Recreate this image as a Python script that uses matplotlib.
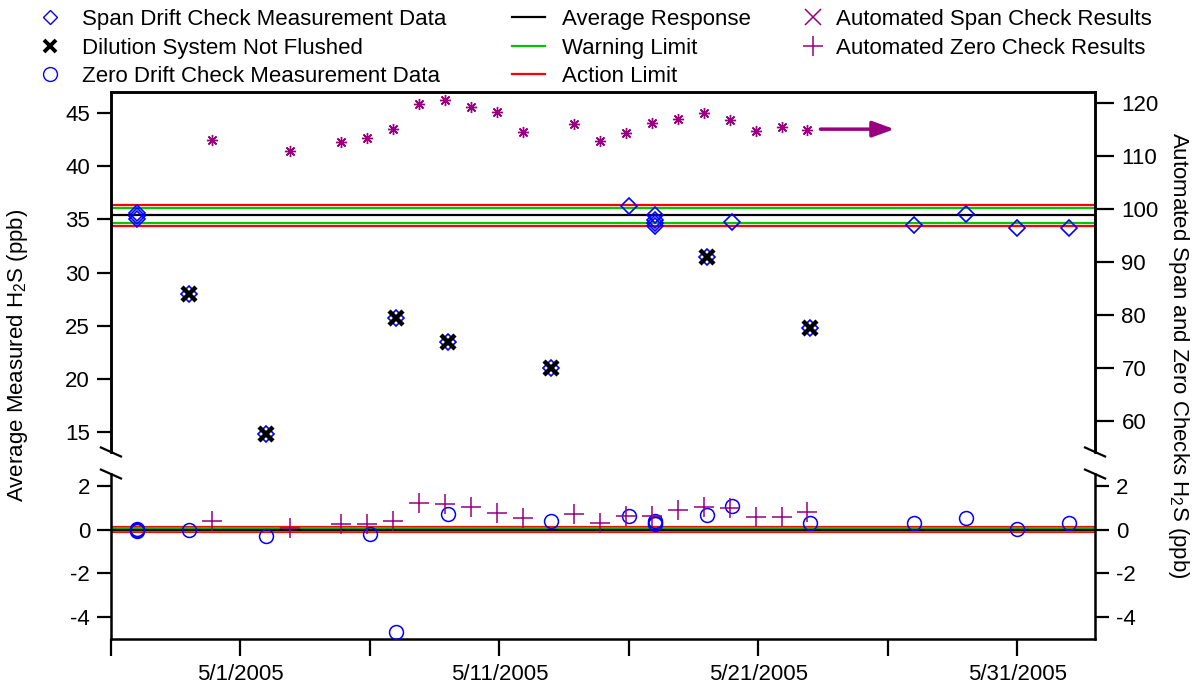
"""Span and zero drift checks of the H2S analyser, with a broken y axis."""
import matplotlib
matplotlib.use('Agg')
import matplotlib.pyplot as plt
import matplotlib.dates as mdates
import pandas as pd
from matplotlib.lines import Line2D
from matplotlib.ticker import FixedLocator, FuncFormatter

plt.rcParams['font.family'] = ['Liberation Sans', 'DejaVu Sans']
plt.rcParams['font.size'] = 16
plt.rcParams['axes.unicode_minus'] = False

PURPLE = '#990080'
GREEN = '#00c800'
FONTSIZE = 16

# Span drift check measurement data (ppb, left axis)
spanDates = ['2005-04-27', '2005-04-27', '2005-04-27', '2005-04-29', '2005-05-02', '2005-05-07',
             '2005-05-09', '2005-05-13', '2005-05-16', '2005-05-17', '2005-05-17', '2005-05-17',
             '2005-05-17', '2005-05-19', '2005-05-20', '2005-05-23', '2005-05-27', '2005-05-29',
             '2005-05-31', '2005-06-02']
spanValues = [35.65, 35.35, 35.0, 28.0, 14.8, 25.7,
              23.5, 21.0, 36.3, 35.4, 34.9, 34.65,
              34.4, 31.5, 34.8, 24.8, 34.5, 35.5,
              34.2, 34.2]

# Points where the dilution system was not flushed
notFlushedDates = ['2005-04-29', '2005-05-02', '2005-05-07', '2005-05-09', '2005-05-13', '2005-05-19', '2005-05-23']
notFlushedValues = [28.0, 14.8, 25.7, 23.5, 21.0, 31.5, 24.8]

# Zero drift check measurement data (ppb)
zeroDates = ['2005-04-27', '2005-04-27', '2005-04-27', '2005-04-29', '2005-05-02', '2005-05-06',
             '2005-05-07', '2005-05-09', '2005-05-13', '2005-05-16', '2005-05-17', '2005-05-17',
             '2005-05-17', '2005-05-19', '2005-05-20', '2005-05-23', '2005-05-27', '2005-05-29',
             '2005-05-31', '2005-06-02']
zeroValues = [-0.05, 0.0, 0.02, 0.0, -0.27, -0.18,
              -4.7, 0.73, 0.38, 0.64, 0.4, 0.33,
              0.25, 0.68, 1.09, 0.3, 0.33, 0.53,
              0.05, 0.33]

# Automated checks, run every evening
autoDates = ['2005-04-29 21:30', '2005-05-02 21:30', '2005-05-04 21:30', '2005-05-05 21:30',
             '2005-05-06 21:30', '2005-05-07 21:30', '2005-05-08 21:30', '2005-05-09 21:30',
             '2005-05-10 21:30', '2005-05-11 21:30', '2005-05-13 21:30', '2005-05-14 21:30',
             '2005-05-15 21:30', '2005-05-16 21:30', '2005-05-17 21:30', '2005-05-18 21:30',
             '2005-05-19 21:30', '2005-05-20 21:30', '2005-05-21 21:30', '2005-05-22 21:30']
autoSpanValues = [112.9, 110.9, 112.5, 113.3, 115.0, 119.8, 120.5, 119.1, 118.2, 114.4,
                  115.9, 112.8, 114.2, 116.2, 117.0, 118.1, 116.8, 114.6, 115.4, 114.9]
autoZeroValues = [0.38, 0.08, 0.27, 0.27, 0.38, 1.21, 1.17, 1.06, 0.76, 0.53,
                  0.73, 0.33, 0.64, 0.64, 0.91, 1.06, 0.98, 0.58, 0.58, 0.79]

# Control limits (average, warning, action)
spanAverage, spanWarning, spanAction = 35.37, (34.68, 36.06), (34.34, 36.40)
zeroAverage, zeroWarning, zeroAction = -0.01, (-0.07, 0.07), (-0.12, 0.12)

tickDates = ['2005-04-26', '2005-05-01', '2005-05-06', '2005-05-11', '2005-05-16',
             '2005-05-21', '2005-05-26', '2005-05-31']
xLimits = ('2005-04-26', '2005-06-03')
arrowDates = ('2005-05-23 09:30', '2005-05-26 06:00')
arrowLevel = 115.0


def d(values):
    return mdates.date2num(pd.to_datetime(values).to_pydatetime())


def dateLabel(x, pos):
    day = mdates.num2date(x)
    return '' if day.day not in (1, 11, 21, 31) else f"{day.month}/{day.day}/{day.year}"


fig = plt.figure(figsize=(11.93, 6.89), dpi=100)
axTop = fig.add_axes([0.0930, 0.3440, 0.8249, 0.5225])
axTopRight = axTop.twinx()
axBot = fig.add_axes([0.0930, 0.0726, 0.8249, 0.2394])

# Span (top) panel
for level, color in [(spanAction[0], 'red'), (spanAction[1], 'red'), (spanWarning[0], GREEN),
                     (spanWarning[1], GREEN), (spanAverage, 'black')]:
    axTop.axhline(level, color=color, lw=1.6, zorder=1)
axTop.plot(d(spanDates), spanValues, ls='none', marker='D', ms=8.5, mfc='none', mec='blue', mew=1.2, zorder=3)
axTop.plot(d(notFlushedDates), notFlushedValues, ls='none', marker='x', ms=10, mec='black', mew=3.2, zorder=4)
axTopRight.plot(d(autoDates), autoSpanValues, ls='none', marker=(8, 2, 0), ms=8, mec=PURPLE, mew=1.0, zorder=3)
axTopRight.annotate('', xy=(d([arrowDates[1]])[0], arrowLevel), xytext=(d([arrowDates[0]])[0], arrowLevel),
                    arrowprops=dict(arrowstyle='-|>,head_length=0.6,head_width=0.22', color=PURPLE,
                                    lw=2.5, mutation_scale=22, shrinkA=0, shrinkB=0))

axTop.set_ylim(13.1, 47)
axTopRight.set_ylim(2 * 13.1 + 28, 2 * 47 + 28)
axTop.set_yticks([15, 20, 25, 30, 35, 40, 45])
axTopRight.set_yticks([60, 70, 80, 90, 100, 110, 120])

# Zero (bottom) panel
for level, color in [(zeroAction[0], 'red'), (zeroAction[1], 'red'), (zeroWarning[0], GREEN),
                     (zeroWarning[1], GREEN), (zeroAverage, 'black')]:
    axBot.axhline(level, color=color, lw=1.6, zorder=1)
axBot.plot(d(zeroDates), zeroValues, ls='none', marker='o', ms=10, mfc='none', mec='blue', mew=1.1, zorder=3)
axBot.plot(d(autoDates), autoZeroValues, ls='none', marker='+', ms=14, mec=PURPLE, mew=1.1, zorder=3)
axBot.set_ylim(-5, 2.55)
axBot.set_yticks([-4, -2, 0, 2])

for ax in (axTop, axTopRight, axBot):
    ax.set_xlim(*d(list(xLimits)))
    for spine in ax.spines.values():
        spine.set_linewidth(1.8)
    ax.tick_params(direction='out', length=10, width=1.6, labelsize=FONTSIZE, pad=5)

for ax in (axTop, axTopRight):
    ax.spines['bottom'].set_visible(False)
    ax.tick_params(bottom=False, labelbottom=False)
axBot.spines['top'].set_visible(False)
axBot.tick_params(right=True, labelright=True)
axTopRight.tick_params(length=14)
axBot.xaxis.set_major_locator(FixedLocator(d(tickDates)))
axBot.xaxis.set_major_formatter(FuncFormatter(dateLabel))
axBot.tick_params(axis='x', length=12, pad=6)

# Break marks on both sides of the gap
for ax, y, dy in [(axTop, 0, 0.0125), (axBot, 1, 0.027)]:
    for x in (0, 1):
        ax.plot([x - 0.0102, x + 0.0102], [y + dy, y - dy], transform=ax.transAxes,
                color='black', lw=1.6, clip_on=False)

fig.text(18 / 1193, 1 - 355 / 689, r'Average Measured H$_\mathregular{2}$S (ppb)',
         rotation=90, ha='center', va='center', fontsize=FONTSIZE)
fig.text(1178 / 1193, 1 - 355 / 689, r'Automated Span and Zero Checks H$_\mathregular{2}$S (ppb)',
         rotation=270, ha='center', va='center', fontsize=FONTSIZE)

# Legend in three blocks above the plot
col1 = [Line2D([], [], ls='none', marker='D', ms=7, mfc='none', mec='blue'),
        Line2D([], [], ls='none', marker='x', ms=8, mec='black', mew=2.8),
        Line2D([], [], ls='none', marker='o', ms=10, mfc='none', mec='blue')]
col2 = [Line2D([], [], color='black', lw=1.6), Line2D([], [], color=GREEN, lw=1.6),
        Line2D([], [], color='red', lw=1.6)]
col3 = [Line2D([], [], ls='none', marker='x', ms=11, mec=PURPLE, mew=1.1),
        Line2D([], [], ls='none', marker='+', ms=14, mec=PURPLE, mew=1.1)]
labels1 = ['Span Drift Check Measurement Data', 'Dilution System Not Flushed', 'Zero Drift Check Measurement Data']
labels2 = ['Average Response', 'Warning Limit', 'Action Limit']
labels3 = ['Automated Span Check Results', 'Automated Zero Check Results']
for handles, labels, x0, hl, pad in [(col1, labels1, 34.5, 1.4, 0.74), (col2, labels2, 512, 1.49, 0.77),
                                     (col3, labels3, 797.5, 1.4, 0.34)]:
    fig.legend(handles, labels, loc='upper left', bbox_to_anchor=(x0 / 1193, 1 - 9 / 689),
               frameon=False, fontsize=FONTSIZE, handlelength=hl, handletextpad=pad,
               labelspacing=0.34, borderaxespad=0, borderpad=0)

fig.savefig('out.png', dpi=100)
